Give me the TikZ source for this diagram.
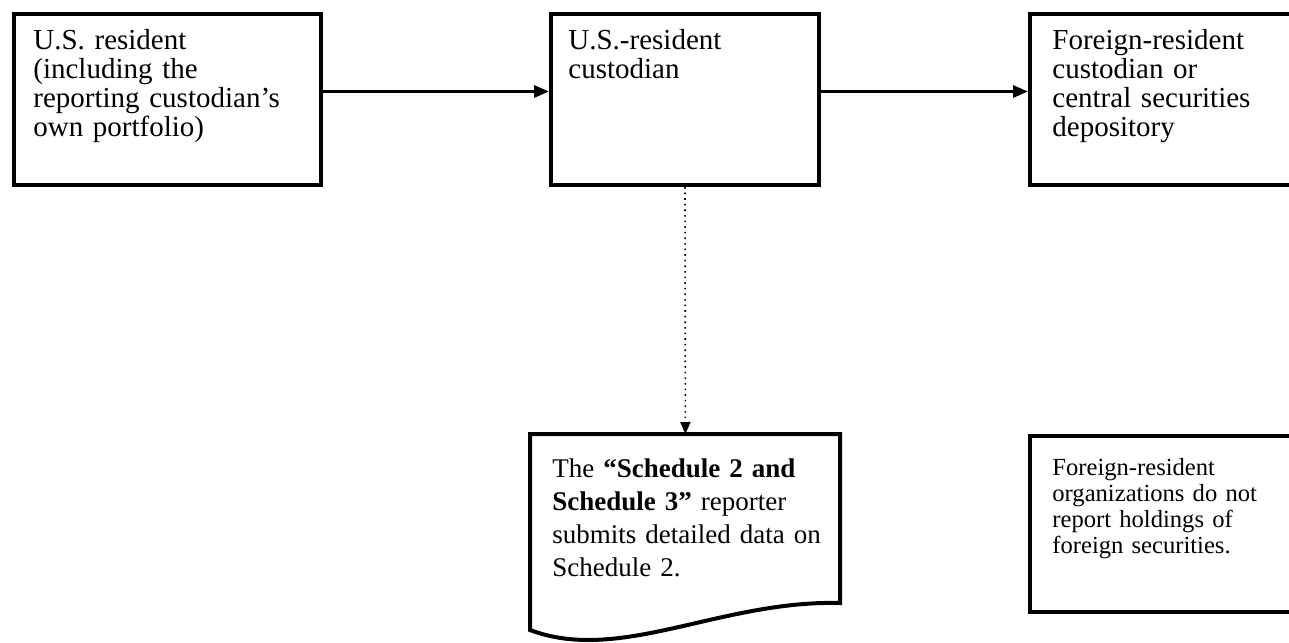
\documentclass[tikz,border=0pt]{standalone}
\usepackage{fontspec}
\setmainfont{Liberation Serif}
\usetikzlibrary{arrows.meta,calc}
\begin{document}
\begin{tikzpicture}[x=0.5pt,y=-0.5pt,
  box/.style={draw,line width=2pt,inner sep=0pt,anchor=north west},
  txt/.style={anchor=north west,inner sep=0pt,align=left,text width=135pt,font=\fontsize{14.5}{14.5}\selectfont},
  doctxt/.style={anchor=north west,inner sep=0pt,align=left,text width=140pt,font=\fontsize{13.5}{16.5}\selectfont},
  small/.style={anchor=north west,inner sep=0pt,align=left,text width=118pt,font=\fontsize{12.3}{13}\selectfont},
  flow/.style={line width=1.5pt,-{Triangle[length=7.5pt,width=6pt]}},
  refline/.style={line width=0.8pt,dotted,-{Triangle[length=6pt,width=5pt]}}]
\useasboundingbox (0,0) rectangle (1289,642);
\clip (0,0) rectangle (1289,642);
% boxes
\node[box,minimum width=153.5pt,minimum height=85.5pt] (b1) at (12,12) {};
\node[box,minimum width=134pt,minimum height=85.5pt] (b2) at (549,12) {};
\node[box,minimum width=150pt,minimum height=85.5pt] (b3) at (1028,12) {};
\node[box,minimum width=150pt,minimum height=88pt] (b5) at (1028,434) {};
% document shape
\node[inner sep=0pt,minimum width=155pt,minimum height=100pt,anchor=north west] (doc) at (530,434) {};
\draw[line width=2pt,line join=miter] (530,630) -- (530,434) -- (840,434) -- (840,603)
  .. controls (720,600) and (620,664) .. cycle;
% texts
\node[txt] (t1) at (33,29) {U.S. resident\\(including the\\reporting custodian’s\\own portfolio)};
\node[txt] (t2) at (568,29) {U.S.-resident\\custodian};
\node[txt] (t3) at (1052,29) {Foreign-resident\\custodian or\\central securities\\depository};
\node[doctxt] (t4) at (552,458) {The \textbf{“Schedule 2 and}\\\textbf{Schedule 3”} reporter\\submits detailed data on\\Schedule 2.};
\node[small] (t5) at (1052,458) {Foreign-resident\\organizations do not\\report holdings of\\foreign securities.};
% connectors
\draw[flow] ($(b1.east)+(0,-8)$) -- ($(b2.west)+(0,-8)$);
\draw[flow] ($(b2.east)+(0,-8)$) -- ($(b3.west)+(0,-8)$);
\draw[refline] (b2.south) -- (doc.north);
\end{tikzpicture}
\end{document}
